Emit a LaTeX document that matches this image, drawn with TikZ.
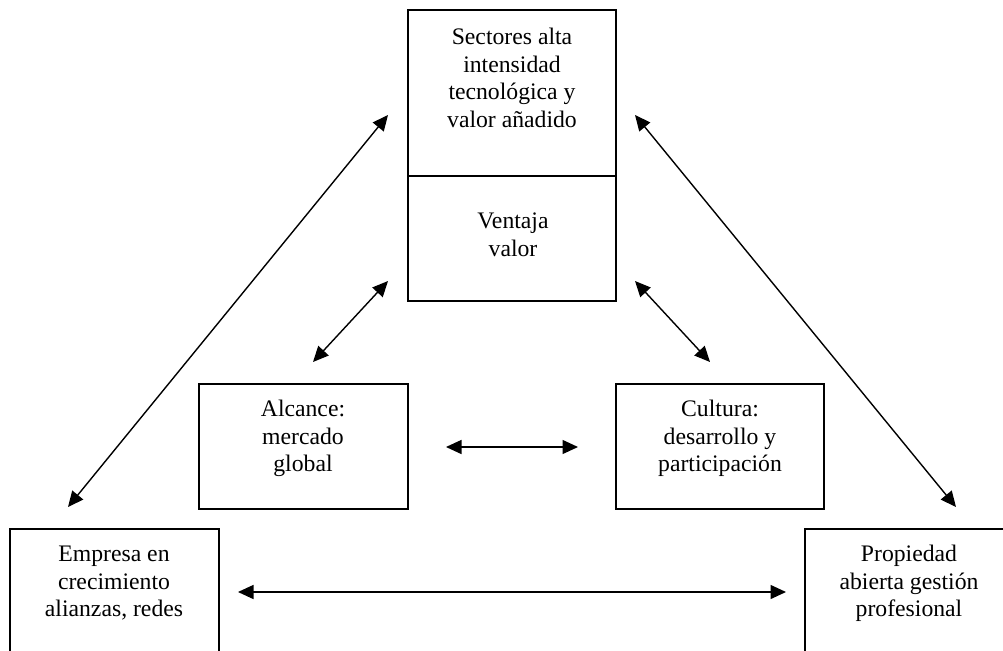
\documentclass[tikz,border=0pt]{standalone}
\usepackage{fontspec}
\setmainfont{Liberation Serif}
\usetikzlibrary{arrows.meta}
\tikzset{
  boxnode/.style={draw=black, line width=1.3pt, rectangle, inner sep=0pt},
  txt/.style={align=center, inner sep=0pt, font=\fontsize{23.7}{27.5}\selectfont},
  arr/.style={line width=1.4pt, {Triangle[length=15.5pt,width=14pt]}-{Triangle[length=15.5pt,width=14pt]}}
}
\begin{document}
\begin{tikzpicture}[x=1pt,y=-1pt]
\useasboundingbox (0,0) rectangle (1003,650);
\clip (0,0) rectangle (1003,650);
\fill[white] (0,0) rectangle (1003,650);
% boxes
\node[boxnode, minimum width=208pt, minimum height=166pt] (sect) at (512,93) {};
\node[boxnode, minimum width=208pt, minimum height=125pt] (vent) at (512,238.5) {};
\node[boxnode, minimum width=209pt, minimum height=125pt] (alc) at (303.5,446.5) {};
\node[boxnode, minimum width=208pt, minimum height=125pt] (cult) at (720,446.5) {};
\node[boxnode, minimum width=209pt, minimum height=160pt] (emp) at (114.5,609) {};
\node[boxnode, minimum width=240pt, minimum height=160pt] (prop) at (925,609) {};
% texts
\node[txt] (sectT) at (512,78) {Sectores alta\\intensidad\\tecnológica y\\valor añadido};
\node[txt] (ventT) at (513,235) {Ventaja\\valor};
\node[txt] (alcT) at (303,438.5) {Alcance:\\mercado\\global};
\node[txt] (cultT) at (720,438.5) {Cultura:\\desarrollo y\\participación};
\node[txt] (empT) at (114,583.5) {Empresa en\\crecimiento\\alianzas, redes};
\node[txt] (propT) at (909,583.5) {Propiedad\\abierta gestión\\profesional};
% arrow end points
\coordinate (a1) at (68,507);
\coordinate (b1) at (388,115);
\coordinate (a2) at (635,115);
\coordinate (b2) at (956,507);
\coordinate (a3) at (388,281);
\coordinate (b3) at (313,362);
\coordinate (a4) at (635,281);
\coordinate (b4) at (710,362);
\coordinate (a5) at (446,447);
\coordinate (b5) at (578,447);
\coordinate (a6) at (238,592);
\coordinate (b6) at (786,592);
\draw[arr] (a1) -- (b1);
\draw[arr] (a2) -- (b2);
\draw[arr] (a3) -- (b3);
\draw[arr] (a4) -- (b4);
\draw[arr] (a5) -- (b5);
\draw[arr] (a6) -- (b6);
\end{tikzpicture}
\end{document}
